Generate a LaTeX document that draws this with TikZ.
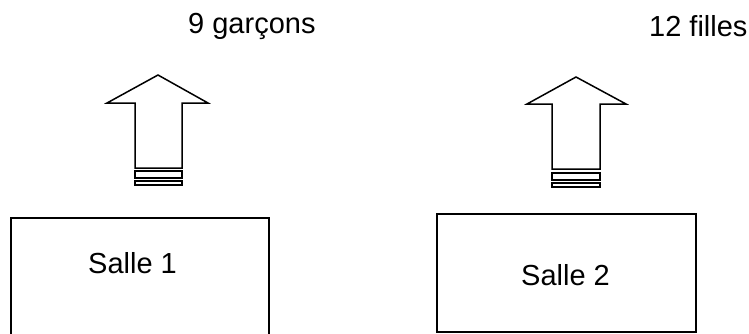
\documentclass[tikz,border=0pt]{standalone}
\usepackage{fontspec}
\setmainfont{Liberation Sans}
\begin{document}
\begin{tikzpicture}[x=1pt,y=-1pt,
  room/.style={draw=black,line width=1.5pt,fill=white},
  lbl/.style={font=\fontsize{29}{33}\selectfont,inner sep=0pt,anchor=base west},
  bigarrow/.style={draw=black,line width=1.5pt,fill=white,line join=miter}]
\useasboundingbox (0,0) rectangle (749,333);
\clip (0,0) rectangle (749,333);

% rooms
\draw[room] (11,218) rectangle (269,345);
\draw[room] (437,214) rectangle (696,332);
\node[lbl] (s1) at (88,273) {Salle 1};
\node[lbl] (s2) at (521,285) {Salle 2};

% counts
\node[lbl] (g) at (188,33) {9 garçons};
\node[lbl] (f) at (649,36) {12 filles};

% outlined arrows with striped tails
\draw[bigarrow] (158,75) -- (208,103) -- (182,103) -- (182,168) -- (135,168) -- (135,103) -- (107,103) -- cycle;
\draw[bigarrow] (135,171) rectangle (182,178);
\draw[bigarrow] (135,181) rectangle (182,185);

\draw[bigarrow] (576,77) -- (626,104) -- (600,104) -- (600,169) -- (552,169) -- (552,104) -- (527,104) -- cycle;
\draw[bigarrow] (552,173) rectangle (600,180);
\draw[bigarrow] (552,183) rectangle (600,187);
\end{tikzpicture}
\end{document}
